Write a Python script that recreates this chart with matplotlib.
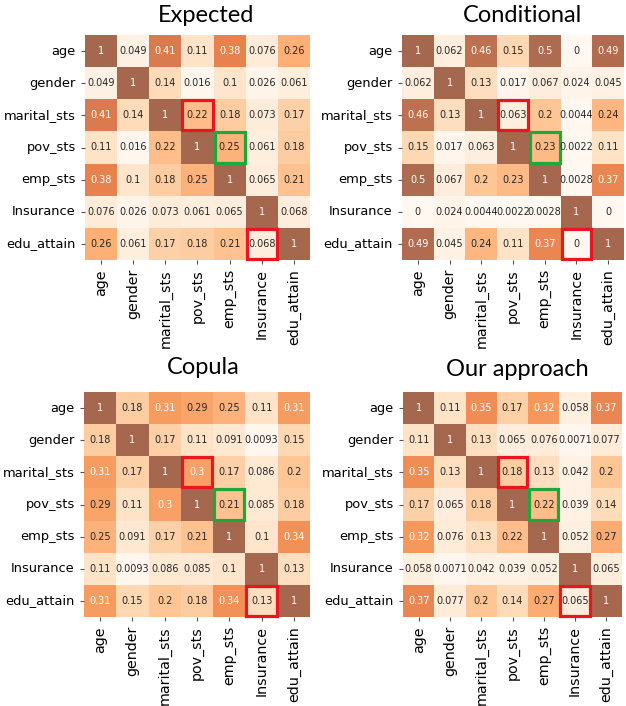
import numpy as np
import matplotlib
matplotlib.use("Agg")
import matplotlib.pyplot as plt
from matplotlib.colors import ListedColormap
from matplotlib.patches import Rectangle
import seaborn as sns

# Daten
labels = ["age", "gender", "marital_sts", "pov_sts", "emp_sts", "Insurance", "edu_attain"]

expected = [
    [1, 0.049, 0.41, 0.11, 0.38, 0.076, 0.26],
    [0.049, 1, 0.14, 0.016, 0.1, 0.026, 0.061],
    [0.41, 0.14, 1, 0.22, 0.18, 0.073, 0.17],
    [0.11, 0.016, 0.22, 1, 0.25, 0.061, 0.18],
    [0.38, 0.1, 0.18, 0.25, 1, 0.065, 0.21],
    [0.076, 0.026, 0.073, 0.061, 0.065, 1, 0.068],
    [0.26, 0.061, 0.17, 0.18, 0.21, 0.068, 1],
]
conditional = [
    [1, 0.062, 0.46, 0.15, 0.5, 0, 0.49],
    [0.062, 1, 0.13, 0.017, 0.067, 0.024, 0.045],
    [0.46, 0.13, 1, 0.063, 0.2, 0.0044, 0.24],
    [0.15, 0.017, 0.063, 1, 0.23, 0.0022, 0.11],
    [0.5, 0.067, 0.2, 0.23, 1, 0.0028, 0.37],
    [0, 0.024, 0.0044, 0.0022, 0.0028, 1, 0],
    [0.49, 0.045, 0.24, 0.11, 0.37, 0, 1],
]
copula = [
    [1, 0.18, 0.31, 0.29, 0.25, 0.11, 0.31],
    [0.18, 1, 0.17, 0.11, 0.091, 0.0093, 0.15],
    [0.31, 0.17, 1, 0.3, 0.17, 0.086, 0.2],
    [0.29, 0.11, 0.3, 1, 0.21, 0.085, 0.18],
    [0.25, 0.091, 0.17, 0.21, 1, 0.1, 0.34],
    [0.11, 0.0093, 0.086, 0.085, 0.1, 1, 0.13],
    [0.31, 0.15, 0.2, 0.18, 0.34, 0.13, 1],
]
ours = [
    [1, 0.11, 0.35, 0.17, 0.32, 0.058, 0.37],
    [0.11, 1, 0.13, 0.065, 0.076, 0.0071, 0.077],
    [0.35, 0.13, 1, 0.18, 0.13, 0.042, 0.2],
    [0.17, 0.065, 0.18, 1, 0.22, 0.039, 0.14],
    [0.32, 0.076, 0.13, 0.22, 1, 0.052, 0.27],
    [0.058, 0.0071, 0.042, 0.039, 0.052, 1, 0.065],
    [0.37, 0.077, 0.2, 0.14, 0.27, 0.065, 1],
]

titles = ["Expected", "Conditional", "Copula", "Our approach"]
matrices = [expected, conditional, copula, ours]

# hervorgehobene Zellen (Zeile, Spalte, Farbe)
highlights = [(2, 3, "#e8161e"), (3, 4, "#1ea83c"), (6, 5, "#e8161e")]

# Oranges, aufgehellt (wie alpha=0.7 auf Weiss)
base = plt.get_cmap("Oranges")(np.linspace(0, 1, 256))
base[:, :3] = base[:, :3] * 0.7 + 0.3
cmap = ListedColormap(base)

W, H = 626, 706
fig = plt.figure(figsize=(W / 100, H / 100), dpi=100)

# Positionen in Pixeln: links, oben, rechts, unten
boxes = [(85, 35, 310, 260), (402, 35, 624, 260), (84, 392, 310, 617), (403, 392, 622, 617)]
title_pos = [(206, 16), (522, 16), (203, 367), (517, 370)]

for m, title, (x0, y0, x1, y1), (tx, ty) in zip(matrices, titles, boxes, title_pos):
    ax = fig.add_axes([x0 / W, 1 - y1 / H, (x1 - x0) / W, (y1 - y0) / H])
    data = np.array(m)
    sns.heatmap(data, ax=ax, cmap=cmap, vmin=0, vmax=0.52, annot=True, fmt=".2g",
                cbar=False, square=False, annot_kws={"fontsize": 7.0},
                xticklabels=labels, yticklabels=labels)
    for t, v in zip(ax.texts, data.flatten()):
        t.set_color("white" if v >= 0.295 else "#262626")
    ax.tick_params(axis="both", length=3, color="#555555")
    ax.tick_params(axis="x", labelsize=10.3)
    ax.tick_params(axis="y", labelsize=9.4)
    ax.set_xticklabels(labels, rotation=90)
    ax.set_yticklabels(labels, rotation=0)
    for r, c, col in highlights:
        ax.add_patch(Rectangle((c + 0.03, r + 0.03), 0.94, 0.94, fill=False,
                               edgecolor=col, lw=2.3, clip_on=False))
    fig.text(tx / W, 1 - ty / H, title, ha="center", va="center",
             fontsize=17, family="Lato")

fig.savefig("out.png", dpi=100)
